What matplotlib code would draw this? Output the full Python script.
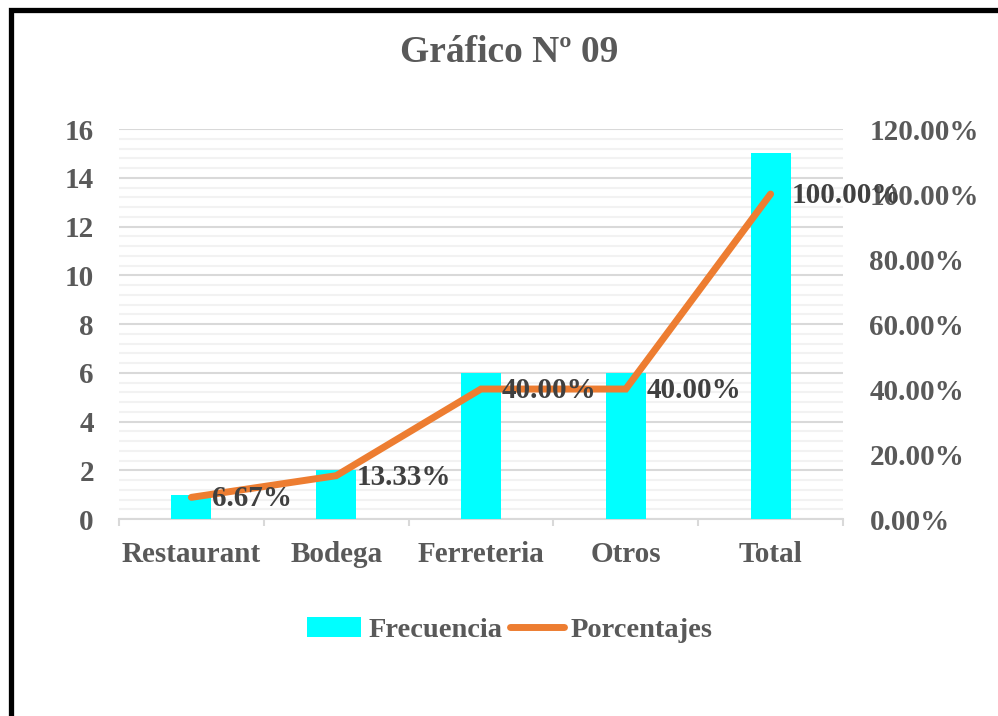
import matplotlib.pyplot as plt
import numpy as np
from matplotlib.lines import Line2D
from matplotlib.ticker import MultipleLocator, FuncFormatter

plt.rcParams['font.family'] = ['Liberation Serif', 'DejaVu Serif']
plt.rcParams['font.weight'] = 'bold'

categorias = ['Restaurant', 'Bodega', 'Ferreteria', 'Otros', 'Total']
frecuencia = [1, 2, 6, 6, 15]
porcentajes = [6.67, 13.33, 40.00, 40.00, 100.00]

fig = plt.figure(figsize=(9.98, 7.16), dpi=100)
ax = fig.add_axes([0.1192, 0.2751, 0.7255, 0.5447])
x = np.arange(len(categorias))

# barras de frecuencia
ax.bar(x, frecuencia, width=0.276, color='#00FFFF', zorder=3, label='Frecuencia')
ax.set_xlim(-0.5, 4.5)
ax.set_ylim(0, 16)
ax.yaxis.set_major_locator(MultipleLocator(2))
ax.yaxis.set_minor_locator(MultipleLocator(0.4))
ax.grid(which='major', axis='y', color='#D9D9D9', linewidth=1.5, zorder=0)
ax.grid(which='minor', axis='y', color='#F2F2F2', linewidth=1.5, zorder=0)
for s in ['top', 'left', 'right']:
    ax.spines[s].set_visible(False)
ax.spines['bottom'].set_color('#D9D9D9')
ax.spines['bottom'].set_linewidth(1.5)
ax.set_xticks(x)
ax.set_xticklabels(categorias)
ax.set_xticks(np.arange(-0.5, 5, 1), minor=True)
ax.tick_params(axis='x', which='major', length=0, pad=16, labelsize=21, labelcolor='#595959')
ax.tick_params(axis='x', which='minor', length=5, color='#D9D9D9', width=1.5)
ax.tick_params(axis='y', which='both', length=0, pad=18, labelsize=21, labelcolor='#595959')

# linea de porcentajes
ax2 = ax.twinx()
ax2.plot(x, porcentajes, color='#ED7D31', linewidth=5, solid_capstyle='round',
         solid_joinstyle='miter', zorder=2, label='Porcentajes')
ax2.set_ylim(0, 120)
ax2.yaxis.set_major_locator(MultipleLocator(20))
ax2.yaxis.set_major_formatter(FuncFormatter(lambda v, p: '%.2f%%' % v))
ax2.tick_params(axis='y', length=0, pad=19, labelsize=21, labelcolor='#595959')
for s in ['top', 'left', 'right', 'bottom']:
    ax2.spines[s].set_visible(False)

# etiquetas de datos (encima de la linea)
for xi, p in zip(x, porcentajes):
    ax2.annotate('%.2f%%' % p, (xi, p), xytext=(15, -1), textcoords='offset points',
                 ha='left', va='center', fontsize=21, color='#404040', fontweight='bold',
                 zorder=6)

fig.text(0.51, 0.927, 'Gráfico Nº 09', ha='center', va='center', fontsize=27,
         color='#595959', fontweight='bold')

h1, l1 = ax.get_legend_handles_labels()
h2, l2 = ax2.get_legend_handles_labels()
leg = fig.legend(h1 + h2, l1 + l2, loc='center', bbox_to_anchor=(0.511, 0.12), ncol=2,
                 frameon=False, fontsize=20.5, handlelength=1.9, handletextpad=0.25,
                 columnspacing=0.25)
for t in leg.get_texts():
    t.set_color('#595959')

# marco negro
fig.add_artist(Line2D([10.5 / 998, 10.5 / 998, 1.0], [0.0, 1 - 9.5 / 716, 1 - 9.5 / 716],
                      transform=fig.transFigure, color='black', linewidth=3.8,
                      solid_joinstyle='miter'))

plt.savefig('out.png', dpi=100)
